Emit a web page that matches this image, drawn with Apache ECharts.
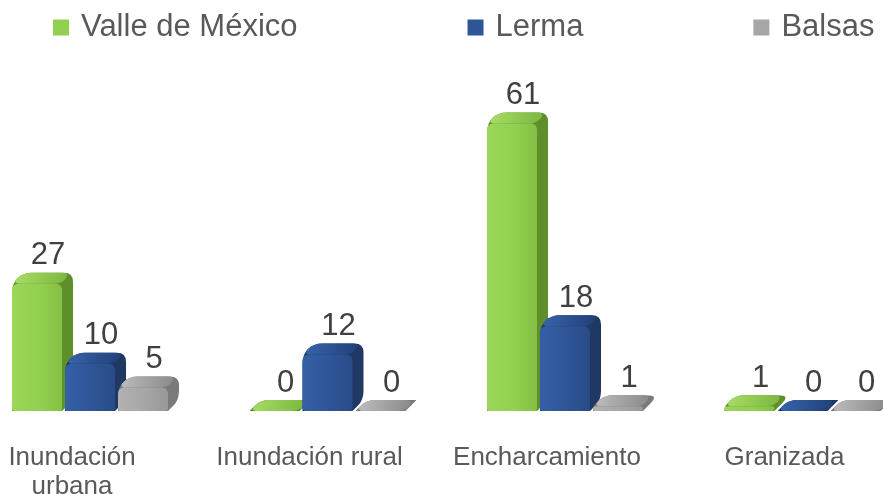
<!DOCTYPE html>
<html>
<head>
<meta charset="utf-8">
<style>
  html, body { margin: 0; padding: 0; background: #ffffff; }
  #chart { width: 883px; height: 494px; }
</style>
<script src="https://cdn.jsdelivr.net/npm/echarts@6/dist/echarts.min.js"></script>
</head>
<body>
<div id="chart"></div>
<script>
// Events per basin and type
const categories = ['Inundación\nurbana', 'Inundación rural', 'Encharcamiento', 'Granizada'];
const seriesNames = ['Valle de México', 'Lerma', 'Balsas'];
const valleDeMexico = [27, 0, 61, 1];
const lerma = [10, 12, 18, 0];
const balsas = [5, 0, 1, 0];

const FONT = "'Liberation Sans', Arial, sans-serif";

// Bar geometry (pixels): front width, depth offsets, corner rounding
const FRONT_W = 50;
const DEPTH_X = 11;
const DEPTH_Y = 11;
const ROUND = 9;
// Left edge of each series' bar relative to the category centre
const SERIES_OFFSET = [-84, -31, 22];

const palettes = [
  { front: ['#9cd65a', '#92d050', '#84c044'], side: '#5f8f2b', top: ['#a6dd66', '#7cb63e'] },
  { front: ['#3460a7', '#2f5597', '#294b88'], side: '#1f3864', top: ['#3864ab', '#213f76'] },
  { front: ['#b2b2b2', '#a6a6a6', '#989898'], side: '#7a7a7a', top: ['#bcbcbc', '#8a8a8a'] }
];

// Closed path through the points, with quadratic rounding at selected corners
function roundedPath(pts, radii) {
  const n = pts.length;
  let d = '';
  for (let i = 0; i < n; i++) {
    const p = pts[i];
    const r = radii[i] || 0;
    if (!r) {
      d += (i === 0 ? 'M' : 'L') + p[0] + ' ' + p[1] + ' ';
      continue;
    }
    const prev = pts[(i - 1 + n) % n];
    const next = pts[(i + 1) % n];
    const l1 = Math.hypot(prev[0] - p[0], prev[1] - p[1]) || 1;
    const l2 = Math.hypot(next[0] - p[0], next[1] - p[1]) || 1;
    const r1 = Math.min(r, l1 / 2), r2 = Math.min(r, l2 / 2);
    const a = [p[0] + (prev[0] - p[0]) * r1 / l1, p[1] + (prev[1] - p[1]) * r1 / l1];
    const b = [p[0] + (next[0] - p[0]) * r2 / l2, p[1] + (next[1] - p[1]) * r2 / l2];
    d += (i === 0 ? 'M' : 'L') + a[0] + ' ' + a[1] + ' Q' + p[0] + ' ' + p[1] + ' ' + b[0] + ' ' + b[1] + ' ';
  }
  return d + 'Z';
}

function makeRenderer(s) {
  const pal = palettes[s];
  return function (params, api) {
    const cat = api.value(0);
    const v = api.value(1);
    const base = api.coord([cat, 0]);
    const top = api.coord([cat, v]);
    const x0 = base[0] + SERIES_OFFSET[s];
    const yB = base[1];
    const yT = top[1];
    const x1 = x0 + FRONT_W;
    const h = yB - yT;
    const children = [];

    // Side face plus rounded silhouette
    children.push({
      type: 'path',
      shape: {
        pathData: roundedPath([
          [x0, yB], [x0, yT], [x0 + DEPTH_X, yT - DEPTH_Y],
          [x1 + DEPTH_X, yT - DEPTH_Y], [x1 + DEPTH_X, yB - DEPTH_Y], [x1, yB]
        ], [0, ROUND, ROUND, ROUND, Math.min(ROUND, h / 2 + 2), 0])
      },
      style: { fill: pal.side }
    });

    // Top face
    children.push({
      type: 'path',
      shape: {
        pathData: roundedPath([
          [x0, yT], [x0 + DEPTH_X, yT - DEPTH_Y],
          [x1 + DEPTH_X - 3, yT - DEPTH_Y], [x1, yT]
        ], [ROUND, ROUND, ROUND, ROUND])
      },
      style: {
        fill: new echarts.graphic.LinearGradient(0, 0, 1, 1, [
          { offset: 0, color: pal.top[0] },
          { offset: 1, color: pal.top[1] }
        ])
      }
    });

    // Front face
    if (h > 0.5) {
      const r = Math.min(6, h / 2);
      children.push({
        type: 'rect',
        shape: { x: x0, y: yT, width: FRONT_W, height: h, r: [r, r, 2, 2] },
        style: {
          fill: new echarts.graphic.LinearGradient(0, 0, 1, 0, [
            { offset: 0, color: pal.front[0] },
            { offset: 0.55, color: pal.front[1] },
            { offset: 1, color: pal.front[2] }
          ])
        }
      });
    }

    // Value label above the bar
    children.push({
      type: 'text',
      style: {
        text: String(v),
        x: x0 + 36,
        y: yT - DEPTH_Y - 17,
        align: 'center',
        verticalAlign: 'middle',
        fontSize: 31,
        fontFamily: FONT,
        fill: '#404040'
      }
    });

    return { type: 'group', children: children };
  };
}

const seriesValues = [valleDeMexico, lerma, balsas];

const chart = echarts.init(document.getElementById('chart'));
chart.setOption({
  animation: false,
  backgroundColor: '#ffffff',
  legend: {
    data: seriesNames,
    left: 53,
    top: 12,
    padding: 0,
    itemWidth: 16,
    itemHeight: 16,
    itemGap: 170,
    icon: 'rect',
    textStyle: { fontSize: 31, color: '#595959', fontFamily: FONT, padding: [0, 0, 0, 7] }
  },
  grid: { left: 96, right: 74.5, top: 81, bottom: 83, outerBoundsMode: 'none', containLabel: false },
  xAxis: {
    type: 'category',
    data: categories,
    boundaryGap: false,
    axisLine: { show: false },
    axisTick: { show: false },
    splitLine: { show: false },
    axisLabel: {
      interval: 0,
      margin: 32,
      fontSize: 26,
      lineHeight: 29,
      color: '#595959',
      fontFamily: FONT,
      hideOverlap: false,
      padding: [0, 48, 0, 0]
    }
  },
  yAxis: {
    type: 'value',
    min: 0,
    max: 70,
    show: false,
    splitLine: { show: false }
  },
  series: seriesNames.map(function (name, s) {
    return {
      name: name,
      type: 'custom',
      renderItem: makeRenderer(s),
      itemStyle: { color: palettes[s].front[1] },
      encode: { x: 0, y: 1 },
      data: seriesValues[s].map(function (val, i) { return [i, val]; })
    };
  })
});
</script>
</body>
</html>
